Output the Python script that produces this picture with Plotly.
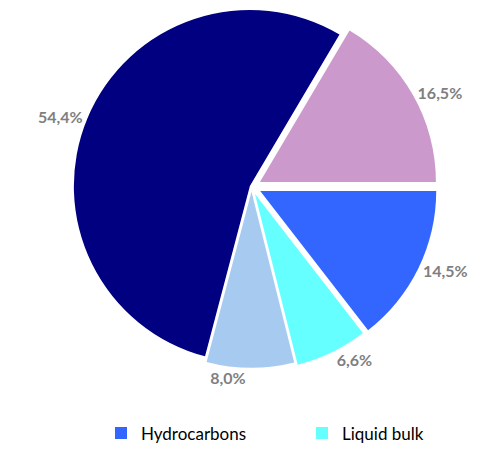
import plotly.graph_objects as go

labels = ["Hydrocarbons", "Liquid bulk", "Dry bulk", "Containers", "Other"]
values = [14.5, 6.6, 8.0, 54.4, 16.5]
colors = ["#3366FF", "#66FFFF", "#A6CAF0", "#000080", "#CC99CC"]
pulls = [0.055, 0.045, 0.028, 0.01, 0.055]

fig = go.Figure(
    go.Pie(
        labels=labels,
        values=values,
        sort=False,
        direction="clockwise",
        rotation=90,
        pull=pulls,
        marker=dict(colors=colors, line=dict(color="white", width=0)),
        texttemplate="%{percent:.1%}",
        textposition="outside",
        outsidetextfont=dict(family="Lato", size=16, color="#7F7F7F", weight="bold"),
        domain=dict(x=[0.1324, 0.8797], y=[0.2125, 0.9977]),
        hoverinfo="label+percent",
    )
)

fig.update_layout(
    width=497,
    height=473,
    margin=dict(l=0, r=0, t=0, b=0, autoexpand=False),
    paper_bgcolor="white",
    plot_bgcolor="white",
    separators=", ",
    font=dict(family="Lato", size=17, color="#000000"),
    showlegend=True,
    legend=dict(
        orientation="h",
        x=101 / 497,
        xanchor="left",
        y=0.1216,
        yanchor="top",
        entrywidth=156,
        entrywidthmode="pixels",
        maxheight=30,
        bgcolor="rgba(0,0,0,0)",
        font=dict(family="Lato", size=17, color="#000000"),
    ),
)

fig.write_html(
    "out.html",
    config={"displayModeBar": False},
    post_script="document.body.style.margin='0';",
)
